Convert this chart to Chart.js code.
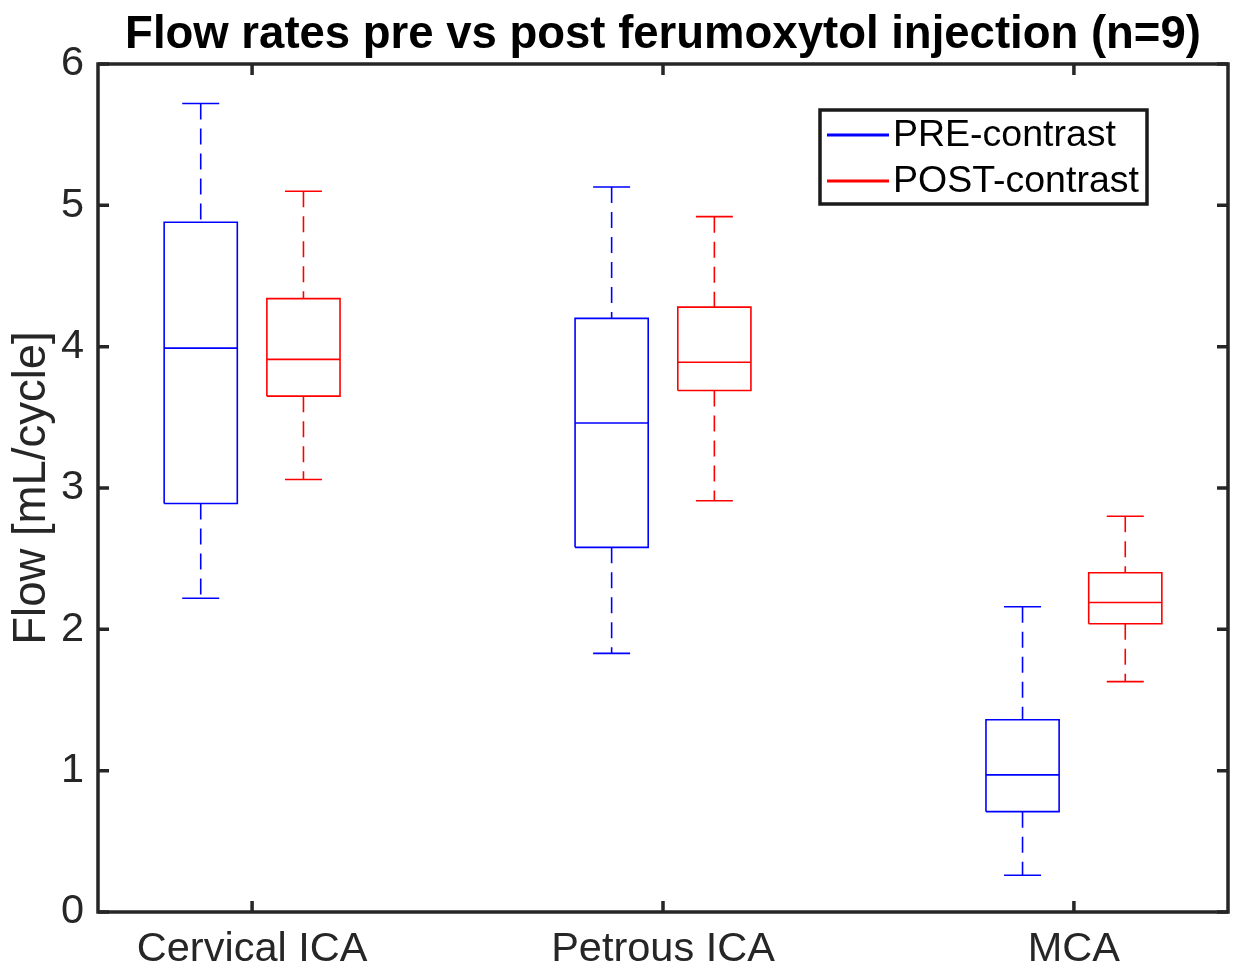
<!DOCTYPE html>
<html>
<head>
<meta charset="utf-8">
<script src="https://cdn.jsdelivr.net/npm/chart.js@4"></script>
<style>
  html, body { margin: 0; padding: 0; background: #fff; }
  #wrap { width: 1246px; height: 975px; }
</style>
</head>
<body>
<div id="wrap"><canvas id="c" width="1246" height="975"></canvas></div>
<script>
// ---- data ----
const categories = ['Cervical ICA', 'Petrous ICA', 'MCA'];
const seriesNames = ['PRE-contrast', 'POST-contrast'];
const preMin    = [2.22, 1.83, 0.26];
const preQ1     = [2.89, 2.58, 0.71];
const preMedian = [3.99, 3.46, 0.97];
const preQ3     = [4.88, 4.20, 1.36];
const preMax    = [5.72, 5.13, 2.16];
const postMin    = [3.06, 2.91, 1.63];
const postQ1     = [3.65, 3.69, 2.04];
const postMedian = [3.91, 3.89, 2.19];
const postQ3     = [4.34, 4.28, 2.40];
const postMax    = [5.10, 4.92, 2.80];
const yTicks = [0, 1, 2, 3, 4, 5, 6];
const titleText = 'Flow rates pre vs post ferumoxytol injection (n=9)';
const yLabel = 'Flow [mL/cycle]';

// ---- layout constants (style) ----
const OFFSET = 0.125;
const BOX_HALF = 0.089;
const CAP_HALF = 0.045;
const FONT = "'Liberation Sans', Arial, Helvetica, sans-serif";
const AXIS_COLOR = '#262626';
const BLUE = '#0000ff';
const RED = '#ff0000';

function solidPoints(mn, q1, med, q3, mx, off) {
  const pts = [];
  categories.forEach((c, i) => {
    const x = i + off;
    const gap = {x: x, y: null};
    pts.push(
      {x: x - BOX_HALF, y: q1[i]}, {x: x + BOX_HALF, y: q1[i]},
      {x: x + BOX_HALF, y: q3[i]}, {x: x - BOX_HALF, y: q3[i]},
      {x: x - BOX_HALF, y: q1[i]}, gap,
      {x: x - BOX_HALF, y: med[i]}, {x: x + BOX_HALF, y: med[i]}, gap,
      {x: x - CAP_HALF, y: mx[i]}, {x: x + CAP_HALF, y: mx[i]}, gap,
      {x: x - CAP_HALF, y: mn[i]}, {x: x + CAP_HALF, y: mn[i]}, gap
    );
  });
  return pts;
}
function whiskerPoints(mn, q1, q3, mx, off) {
  const pts = [];
  categories.forEach((c, i) => {
    const x = i + off;
    pts.push({x: x, y: mx[i]}, {x: x, y: q3[i]}, {x: x, y: null},
             {x: x, y: q1[i]}, {x: x, y: mn[i]}, {x: x, y: null});
  });
  return pts;
}

const common = { pointRadius: 0, pointHoverRadius: 0, borderWidth: 1.6, fill: false, tension: 0, spanGaps: false };

const datasets = [
  Object.assign({ label: seriesNames[0], data: solidPoints(preMin, preQ1, preMedian, preQ3, preMax, -OFFSET), borderColor: BLUE }, common),
  Object.assign({ label: '_preW', data: whiskerPoints(preMin, preQ1, preQ3, preMax, -OFFSET), borderColor: BLUE, borderDash: [16, 9] }, common),
  Object.assign({ label: seriesNames[1], data: solidPoints(postMin, postQ1, postMedian, postQ3, postMax, OFFSET), borderColor: RED }, common),
  Object.assign({ label: '_postW', data: whiskerPoints(postMin, postQ1, postQ3, postMax, OFFSET), borderColor: RED, borderDash: [16, 9] }, common)
];

const frameAndLegend = {
  id: 'frameAndLegend',
  afterDatasetsDraw(chart) {
    const ctx = chart.ctx;
    const a = chart.chartArea;
    const xs = chart.scales.x, ys = chart.scales.y;
    ctx.save();
    ctx.strokeStyle = AXIS_COLOR;
    ctx.lineWidth = 3.5;
    ctx.lineCap = 'butt';
    const TL = 11;
    ctx.beginPath();
    categories.forEach((c, i) => {
      const px = xs.getPixelForValue(i);
      ctx.moveTo(px, a.bottom); ctx.lineTo(px, a.bottom - TL);
      ctx.moveTo(px, a.top); ctx.lineTo(px, a.top + TL);
    });
    yTicks.forEach(v => {
      const py = ys.getPixelForValue(v);
      ctx.moveTo(a.left, py); ctx.lineTo(a.left + TL, py);
      ctx.moveTo(a.right, py); ctx.lineTo(a.right - TL, py);
    });
    ctx.stroke();
    ctx.lineJoin = 'miter';
    ctx.strokeRect(a.left, a.top, a.right - a.left, a.bottom - a.top);

    // legend
    const L = a.right - 408, T = a.top + 46, W = 327, H = 94;
    ctx.fillStyle = '#ffffff';
    ctx.fillRect(L, T, W, H);
    ctx.strokeStyle = '#1a1a1a';
    ctx.lineWidth = 3.5;
    ctx.strokeRect(L, T, W, H);
    const rows = [T + 25, T + 71];
    const cols = [BLUE, RED];
    ctx.font = '37.5px ' + FONT;
    ctx.textBaseline = 'middle';
    ctx.textAlign = 'left';
    seriesNames.forEach((n, k) => {
      ctx.strokeStyle = cols[k];
      ctx.lineWidth = 3;
      ctx.beginPath();
      ctx.moveTo(L + 7, rows[k]); ctx.lineTo(L + 69, rows[k]);
      ctx.stroke();
      ctx.fillStyle = '#000000';
      ctx.fillText(n, L + 73, rows[k] + 1);
    });
    ctx.restore();
  }
};

new Chart(document.getElementById('c'), {
  type: 'line',
  data: { datasets },
  options: {
    responsive: false,
    devicePixelRatio: 1,
    animation: false,
    events: [],
    layout: { padding: { left: 0, right: 18, top: 0, bottom: 0 } },
    plugins: {
      legend: { display: false },
      tooltip: { enabled: false },
      title: {
        display: true, text: titleText, color: '#000000', fullSize: false,
        font: { family: FONT, size: 45.5, weight: 'bold' },
        padding: { top: 8.4, bottom: 1 }
      }
    },
    scales: {
      x: {
        type: 'linear', min: -0.375, max: 2.375,
        afterBuildTicks: s => { s.ticks = categories.map((c, i) => ({ value: i })); },
        ticks: {
          callback: v => categories[v], color: AXIS_COLOR,
          font: { family: FONT, size: 41.5 }, padding: 13, maxRotation: 0, autoSkip: false
        },
        grid: { display: false, drawTicks: false },
        border: { display: false },
        afterFit: s => { s.height = 63; }
      },
      y: {
        type: 'linear', min: 0, max: 6,
        afterBuildTicks: s => { s.ticks = yTicks.map(v => ({ value: v })); },
        ticks: { color: AXIS_COLOR, font: { family: FONT, size: 41.5 }, padding: 14 },
        grid: { display: false, drawTicks: false },
        border: { display: false },
        title: { display: true, text: yLabel, color: AXIS_COLOR, font: { family: FONT, size: 45.5 }, padding: { top: 5, bottom: 0 } },
        afterFit: s => { s.width = 98; }
      }
    }
  },
  plugins: [frameAndLegend]
});
</script>
</body>
</html>
